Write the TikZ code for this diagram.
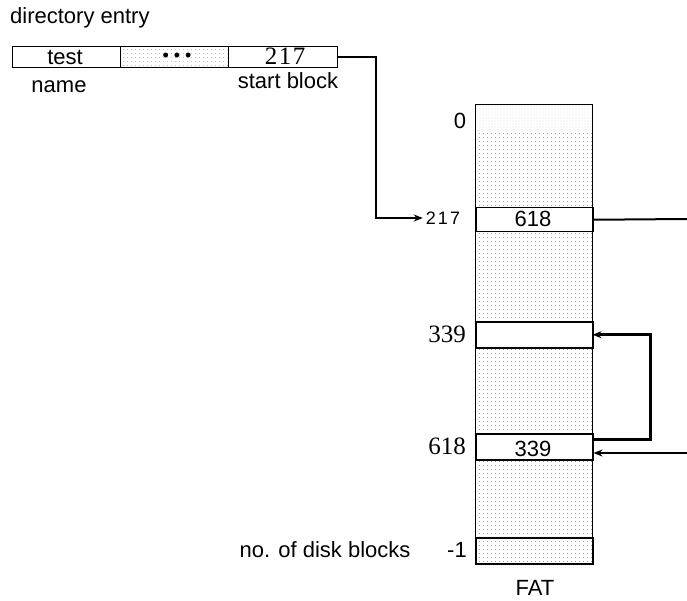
\documentclass[tikz,border=0pt]{standalone}
\usepackage{fontspec}
\setmainfont{Liberation Serif}
\setsansfont{Liberation Sans}
\usetikzlibrary{arrows.meta,patterns.meta}
\begin{document}
\begin{tikzpicture}[x=1pt,y=-1pt,
  sans/.style={font=\sffamily\fontsize{22}{26}\selectfont, inner sep=0pt},
  serif/.style={font=\fontsize{25}{28}\selectfont, inner sep=0pt},
  shade/.style={pattern={Dots[distance=4pt,radius=0.55pt]}, pattern color=black!60,
    inner sep=0pt, minimum width=117pt, anchor=north west},
  lightshade/.style={pattern={Dots[distance=3pt,radius=0.45pt]}, pattern color=black!35,
    inner sep=0pt, minimum width=117pt, anchor=north west},
  cell/.style={draw, line width=1.5pt, fill=white, inner sep=0pt,
    minimum width=117pt, anchor=north west},
  field/.style={draw, line width=1pt, inner sep=0pt, minimum height=21pt, anchor=north west},
  link/.style={line width=2pt},
  tip/.style={-{Stealth[length=9pt,width=7pt]}}
]
\useasboundingbox (0,0) rectangle (687,601);

% directory entry
\node[sans, anchor=west] (title) at (10,18) {directory entry};
\node[field, minimum width=108pt] (fname) at (12,46) {};
\node[field, minimum width=108pt, pattern={Dots[distance=4pt,radius=0.5pt]}, pattern color=black!40] (fmid) at (120,46) {};
\node[field, minimum width=109pt] (fstart) at (228,46) {};
\node[sans] (ttest) at (65,57) {test};
\node[font=\sffamily\fontsize{18}{20}\selectfont, inner sep=0pt, anchor=base] (dots) at (177,62) {\textbullet\ \textbullet\ \textbullet};
\node[serif] (t217) at (285,56) {2\kern1.5pt1\kern1.5pt7};
\node[sans] (lname) at (59,87) {name};
\node[sans] (lstart) at (288,81) {start block};

% FAT
\node[lightshade, minimum height=26pt] (r0) at (475,104) {};
\node[shade, minimum height=77pt] (s1) at (475,130) {};
\node[cell, minimum height=24pt] (r217) at (475,207) {};
\node[shade, minimum height=90pt] (s2) at (475,231) {};
\node[cell, minimum height=26pt] (r339) at (475,321) {};
\node[shade, minimum height=86pt] (s3) at (475,347) {};
\node[cell, minimum height=26pt] (r618) at (475,433) {};
\node[shade, minimum height=78pt] (s4) at (475,459) {};
\node[shade, minimum height=26pt, draw, line width=1.5pt] (rm1) at (475,537) {};
\node[draw, line width=1.2pt, inner sep=0pt, minimum width=117pt, minimum height=459pt,
  anchor=north west] (fat) at (475,104) {};

\node[sans] (v618) at (533,219) {618};
\node[sans] (v339) at (533,449) {339};

% FAT labels
\node[sans] (l0) at (460,121) {0};
\node[font=\sffamily\fontsize{18}{20}\selectfont, inner xsep=3pt, inner ysep=0pt] (l217) at (443,218) {2\kern2pt1\kern2pt7};
\node[serif] (l339) at (447,334) {339};
\node[serif] (l618) at (447,446) {618};
\node[sans] (lm1) at (457,550) {-1};
\node[sans] (lblocks) at (325,550) {no. of disk blocks};
\node[sans] (lfat) at (535,588) {FAT};

% connectors
\coordinate (offA) at (687,219);
\coordinate (offB) at (687,453);
\draw[link, tip] (fstart.east) -- ++(38,0) |- (l217.west);
\draw[link] (r217.east) -- (offA);
\draw[line width=3pt, tip, shorten >=-1pt] ([yshift=7pt]r618.east) -- ++(57,0) |- (r339.east);
\draw[link, tip] (offB) -- (r618.east |- offB);
\end{tikzpicture}
\end{document}
